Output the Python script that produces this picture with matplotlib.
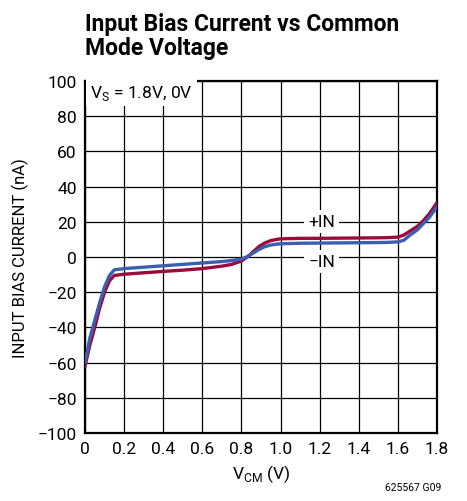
import matplotlib
matplotlib.use('Agg')
import matplotlib.pyplot as plt

plt.rcParams['font.family'] = ['Roboto', 'DejaVu Sans']

# dados
vcm = [0, 0.025, 0.05, 0.075, 0.1, 0.125, 0.15, 0.2, 0.3, 0.4, 0.5, 0.6,
       0.7, 0.75, 0.8, 0.83, 0.86, 0.89, 0.92, 0.95, 0.98, 1.0, 1.1, 1.2,
       1.3, 1.4, 1.5, 1.55, 1.6, 1.63, 1.66, 1.7, 1.73, 1.76, 1.8]

i_pos = [-62, -50, -40, -29, -20, -13.5, -10.5, -9.8, -9, -8.2, -7.5, -6.6,
         -5.2, -4.2, -2.3, 0, 3, 6, 8, 9.3, 10, 10.3, 10.6, 10.6,
         10.7, 10.8, 10.9, 11, 11.3, 12.5, 14.6, 17.5, 20.7, 24.5, 31]

i_neg = [-60, -46, -36, -26, -17, -10.5, -7.3, -6.6, -5.8, -5, -4.2, -3.4,
         -2.6, -2, -1.2, 0.2, 2.2, 4.3, 5.9, 6.8, 7.3, 7.5, 7.8, 7.9,
         8, 8.1, 8.2, 8.3, 8.6, 9.5, 12.3, 15.5, 19, 22.5, 28.5]

xticks = [0, 0.2, 0.4, 0.6, 0.8, 1.0, 1.2, 1.4, 1.6, 1.8]
xlabels = ['0', '0.2', '0.4', '0.6', '0.8', '1.0', '1.2', '1.4', '1.6', '1.8']
yticks = [-100, -80, -60, -40, -20, 0, 20, 40, 60, 80, 100]
ylabels = ['\u2212100', '\u221280', '\u221260', '\u221240', '\u221220', '0',
           '20', '40', '60', '80', '100']

fig = plt.figure(figsize=(4.67, 5.02), dpi=100)
ax = fig.add_axes([0.182, 0.1355, 0.754, 0.7012])

ax.plot(vcm, i_pos, color='#9b0a3c', lw=2.4, solid_capstyle='round', zorder=3)
ax.plot(vcm, i_neg, color='#3b5fae', lw=2.4, solid_capstyle='round', zorder=4)

ax.set_xlim(0, 1.8)
ax.set_ylim(-100, 100)
ax.set_xticks(xticks)
ax.set_xticklabels(xlabels)
ax.set_yticks(yticks)
ax.set_yticklabels(ylabels)
ax.tick_params(length=0, labelsize=12.5, pad=6)
ax.grid(True, color='black', lw=0.9)
for s in ax.spines.values():
    s.set_linewidth(1.6)

ax.set_xlabel('V$_{\\mathregular{CM}}$ (V)', fontsize=12.5, labelpad=4)
ax.set_ylabel('INPUT BIAS CURRENT (nA)', fontsize=12, labelpad=6)

# caixas de texto
ax.text(0.025, 93.5, 'V$_{\\mathregular{S}}$ = 1.8V, 0V', fontsize=12.5, va='center', ha='left',
        bbox=dict(facecolor='white', edgecolor='none', pad=3), zorder=5)
ax.text(1.21, 20, '+IN', fontsize=12.5, va='center', ha='center',
        bbox=dict(facecolor='white', edgecolor='none', pad=3), zorder=5)
ax.text(1.21, -2.5, '\u2212IN', fontsize=12.5, va='center', ha='center',
        bbox=dict(facecolor='white', edgecolor='none', pad=3), zorder=5)

fig.text(0.182, 0.974, 'Input Bias Current vs Common\nMode Voltage', fontsize=16.5,
         fontweight='bold', va='top', ha='left', linespacing=1.05)
fig.text(0.945, 0.018, '625567 G09', fontsize=7.5, ha='right', va='bottom')

fig.savefig('out.png', dpi=100)
